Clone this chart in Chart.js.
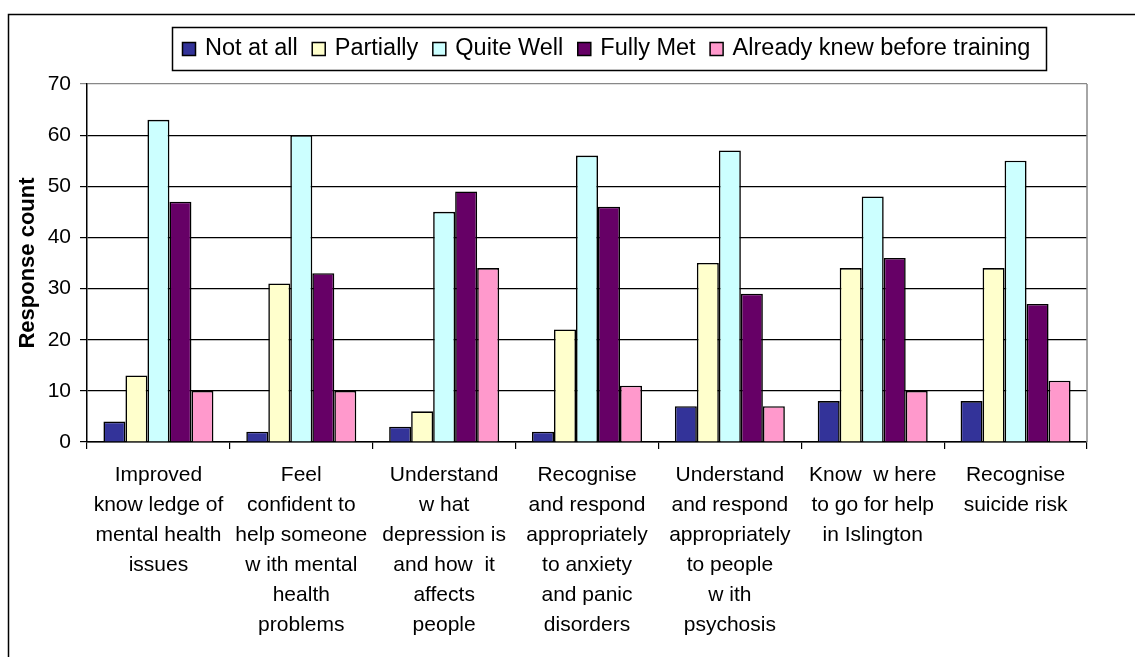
<!DOCTYPE html>
<html>
<head>
<meta charset="utf-8">
<script src="https://cdn.jsdelivr.net/npm/chart.js@4"></script>
<style>
  html, body { margin: 0; padding: 0; background: #fff; }
  #wrap { width: 1135px; height: 657px; position: relative; }
</style>
</head>
<body>
<div id="wrap"><canvas id="chart"></canvas></div>
<script>
const categories = [
  ['Improved', 'know ledge of', 'mental health', 'issues'],
  ['Feel', 'confident to', 'help someone', 'w ith mental', 'health', 'problems'],
  ['Understand', 'w hat', 'depression is', 'and how  it', 'affects', 'people'],
  ['Recognise', 'and respond', 'appropriately', 'to anxiety', 'and panic', 'disorders'],
  ['Understand', 'and respond', 'appropriately', 'to people', 'w ith', 'psychosis'],
  ['Know  w here', 'to go for help', 'in Islington'],
  ['Recognise', 'suicide risk']
];
const seriesNames = ['Not at all', 'Partially', 'Quite Well', 'Fully Met', 'Already knew before training'];
const notAtAll = [4, 2, 3, 2, 7, 8, 8];
const partially = [13, 31, 6, 22, 35, 34, 34];
const quiteWell = [63, 60, 45, 56, 57, 48, 55];
const fullyMet = [47, 33, 49, 46, 29, 36, 27];
const alreadyKnew = [10, 10, 34, 11, 7, 10, 12];
const colors = ['#333399', '#FFFFCC', '#CCFFFF', '#660066', '#FF99CC'];

const FONT = "'Liberation Sans', Arial, sans-serif";

// outer frame, plot border and the boxed legend
const framePlugin = {
  id: 'frame',
  beforeDraw(chart) {
    const ctx = chart.ctx;
    ctx.save();
    ctx.fillStyle = '#fff';
    ctx.fillRect(0, 0, chart.width, chart.height);
    ctx.strokeStyle = '#000';
    ctx.lineWidth = 1.5;
    ctx.strokeRect(8.5, 14.5, 1140, 660);
    ctx.restore();
  },
  afterDraw(chart) {
    const ctx = chart.ctx;
    const a = chart.chartArea;
    ctx.save();
    ctx.strokeStyle = '#888';
    ctx.lineWidth = 1.5;
    ctx.beginPath();
    ctx.moveTo(a.right, a.top);
    ctx.lineTo(a.right, a.bottom);
    ctx.stroke();

    // legend
    ctx.strokeStyle = '#000';
    ctx.lineWidth = 1.5;
    ctx.strokeRect(172.5, 27.5, 874, 43);
    ctx.font = '23.5px ' + FONT;
    ctx.textBaseline = 'middle';
    let x = 182;
    chart.data.datasets.forEach(ds => {
      ctx.fillStyle = ds.backgroundColor;
      ctx.fillRect(x, 42, 13, 13);
      ctx.lineWidth = 1.5;
      ctx.strokeRect(x + 0.5, 42.5, 13, 13);
      ctx.fillStyle = '#000';
      ctx.fillText(ds.label, x + 23, 49);
      x += 23 + ctx.measureText(ds.label).width + 14;
    });
    ctx.restore();
  }
};

const seriesData = [notAtAll, partially, quiteWell, fullyMet, alreadyKnew];

new Chart(document.getElementById('chart'), {
  type: 'bar',
  data: {
    labels: categories,
    datasets: seriesNames.map((name, i) => ({
      label: name,
      data: seriesData[i],
      backgroundColor: colors[i],
      borderColor: '#000',
      borderWidth: 1.6,
      categoryPercentage: 0.77,
      barPercentage: 1
    }))
  },
  options: {
    responsive: true,
    maintainAspectRatio: false,
    animation: false,
    layout: { padding: { top: 84, right: 48, bottom: 0, left: 0 } },
    plugins: {
      legend: { display: false },
      tooltip: { enabled: false }
    },
    scales: {
      x: {
        grid: { offset: true, drawOnChartArea: false, color: '#000', tickLength: 7, lineWidth: 1.2 },
        border: { color: '#000', width: 1.5 },
        ticks: {
          color: '#000',
          font: { family: FONT, size: 21, lineHeight: 1.43 },
          maxRotation: 0,
          minRotation: 0,
          autoSkip: false,
          padding: 11
        },
        afterFit: s => { s.height = 215; }
      },
      y: {
        min: 0,
        max: 70,
        grid: {
          color: c => c.tick && c.tick.value === 70 ? '#888' : '#000',
          lineWidth: 1.2,
          tickLength: 7
        },
        border: { color: '#000', width: 1.5 },
        ticks: {
          stepSize: 10,
          color: '#000',
          font: { family: FONT, size: 21 },
          padding: 9
        },
        title: {
          display: true,
          text: 'Response count',
          color: '#000',
          font: { family: FONT, size: 22, weight: 'bold' },
          padding: { top: 15, bottom: 0 }
        },
        afterFit: s => { s.width = 87; }
      }
    }
  },
  plugins: [framePlugin]
});
</script>
</body>
</html>
